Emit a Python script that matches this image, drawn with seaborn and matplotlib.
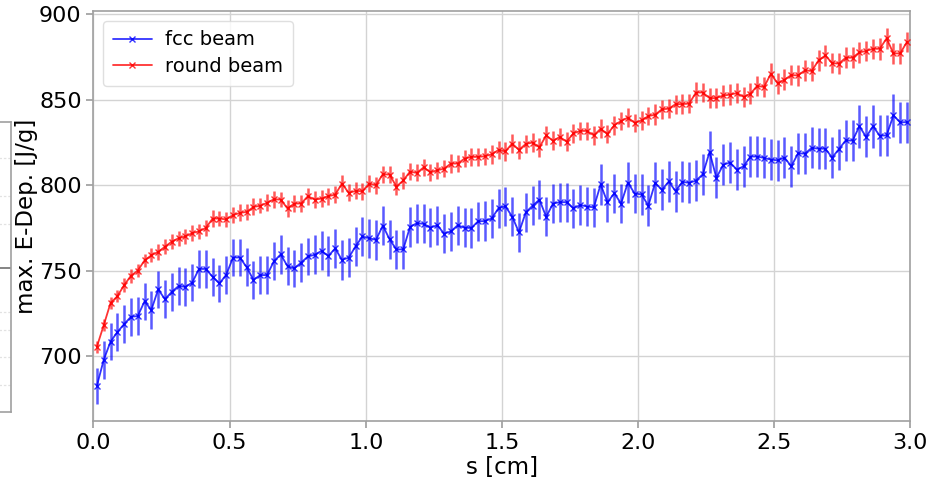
import numpy as np
import pandas as pd
import matplotlib
matplotlib.use("Agg")
import matplotlib.pyplot as plt
import seaborn as sns

# depth bins (cm): 120 bins of 0.025 cm, values at bin centres
s = np.round(np.arange(120) * 0.025 + 0.0125, 4)

fcc_beam = [
    682.6, 697.7, 708.4, 714.0, 718.7, 723.0, 723.4, 732.0, 727.0, 739.0,
    733.3, 737.6, 741.0, 740.5, 743.0, 751.0, 751.0, 746.4, 742.5, 747.6,
    757.7, 757.7, 752.0, 744.6, 747.4, 747.4, 755.5, 759.5, 752.6, 751.3,
    754.7, 758.3, 759.3, 761.6, 758.6, 763.0, 756.3, 757.6, 764.3, 770.0,
    769.0, 768.0, 776.4, 768.3, 762.4, 762.5, 775.6, 777.8, 777.4, 775.2,
    776.6, 771.7, 773.0, 776.6, 775.1, 775.0, 778.9, 779.0, 780.6, 786.6,
    787.7, 781.7, 772.4, 784.1, 788.0, 791.6, 781.5, 789.3, 790.1, 790.1,
    786.4, 788.5, 787.5, 787.1, 800.5, 790.0, 795.3, 789.3, 801.5, 795.1,
    794.7, 788.0, 801.4, 797.3, 802.2, 796.5, 802.0, 801.4, 802.7, 806.4,
    819.5, 804.3, 812.0, 813.3, 809.2, 811.1, 816.8, 816.8, 816.0, 815.0,
    814.6, 816.2, 811.1, 818.7, 818.5, 821.9, 821.4, 821.4, 816.2, 821.2,
    826.3, 826.1, 834.5, 828.3, 834.5, 829.0, 829.2, 840.9, 836.8, 837.0,
]

fcc_err = [
    10.5, 11.0, 11.0, 11.0, 11.0, 11.0, 11.0, 11.0, 11.0, 11.0,
    11.0, 11.0, 11.0, 11.0, 11.0, 11.0, 11.0, 11.0, 11.0, 11.0,
    11.0, 11.0, 11.0, 11.0, 11.0, 11.0, 11.0, 11.5, 11.0, 11.0,
    11.5, 11.0, 11.5, 11.5, 11.5, 11.5, 11.5, 11.5, 11.5, 11.5,
    11.5, 11.5, 11.5, 11.5, 11.5, 11.5, 11.5, 11.5, 11.5, 11.5,
    11.5, 11.5, 11.5, 11.5, 11.5, 11.5, 11.5, 11.5, 11.5, 11.5,
    11.5, 11.5, 11.5, 11.5, 11.5, 11.5, 11.5, 11.5, 11.5, 11.5,
    11.5, 11.5, 11.5, 11.5, 12.0, 11.5, 11.5, 11.5, 12.0, 11.5,
    12.0, 12.0, 12.0, 12.0, 12.0, 12.0, 12.0, 12.0, 12.0, 12.0,
    12.5, 12.0, 12.0, 12.0, 12.0, 12.0, 12.0, 12.0, 12.0, 12.0,
    12.0, 12.0, 12.0, 12.0, 12.0, 12.0, 12.0, 12.0, 12.0, 12.0,
    12.0, 12.0, 12.5, 12.0, 12.5, 12.0, 12.0, 12.5, 12.0, 12.0,
]

round_beam = [
    705.5, 718.0, 731.0, 735.0, 741.5, 747.0, 750.0, 756.0, 759.0, 761.0,
    764.0, 767.0, 769.0, 770.0, 772.0, 773.0, 775.0, 780.5, 780.5, 780.0,
    782.5, 783.8, 784.4, 787.3, 788.0, 789.7, 791.8, 791.6, 786.4, 789.3,
    789.3, 793.6, 791.6, 792.2, 793.6, 794.5, 801.0, 795.5, 796.7, 796.5,
    801.0, 800.0, 806.5, 806.2, 799.2, 802.8, 808.0, 807.2, 810.5, 807.5,
    808.8, 809.7, 812.7, 812.7, 815.6, 816.6, 816.6, 817.0, 818.1, 820.7,
    819.8, 824.4, 820.7, 824.2, 825.0, 822.2, 829.2, 826.0, 828.3, 825.5,
    830.4, 831.8, 831.8, 829.2, 833.1, 830.0, 835.1, 837.6, 839.6, 836.5,
    838.0, 840.5, 841.3, 844.5, 844.8, 847.5, 847.5, 847.8, 854.3, 854.3,
    851.0, 851.0, 852.6, 853.0, 854.0, 851.7, 853.6, 858.2, 857.5, 865.3,
    859.6, 861.8, 864.5, 864.3, 867.3, 866.9, 873.1, 876.0, 871.5, 871.2,
    874.7, 874.7, 877.8, 878.6, 879.9, 879.9, 886.0, 877.2, 877.2, 884.0,
]

round_err = [
    3.5, 3.5, 3.5, 3.5, 4.0, 4.0, 4.0, 4.0, 4.0, 4.5,
    4.5, 4.5, 4.5, 4.5, 4.5, 4.5, 4.5, 5.0, 4.5, 4.5,
    4.5, 5.0, 4.5, 5.0, 4.5, 5.0, 5.0, 4.5, 5.0, 5.0,
    5.0, 5.0, 5.0, 5.0, 5.0, 5.0, 5.0, 5.0, 5.0, 5.0,
    5.0, 5.0, 5.0, 5.0, 5.0, 5.0, 5.0, 5.0, 5.0, 5.0,
    5.0, 5.0, 5.5, 5.0, 5.0, 5.5, 5.5, 5.0, 5.5, 5.5,
    5.5, 5.5, 5.5, 5.5, 5.5, 5.5, 5.5, 5.5, 5.5, 5.5,
    5.5, 5.5, 5.5, 5.5, 5.5, 5.5, 5.5, 5.5, 5.5, 5.5,
    5.5, 5.5, 6.0, 5.5, 5.5, 5.5, 6.0, 5.5, 6.0, 5.5,
    6.0, 6.0, 6.0, 6.0, 6.0, 6.0, 6.0, 6.0, 6.0, 6.0,
    6.0, 6.0, 6.0, 6.0, 6.0, 6.0, 6.0, 6.0, 6.0, 6.0,
    6.0, 6.0, 6.0, 6.0, 6.0, 6.5, 6.0, 6.0, 6.0, 6.0,
]

x_ticks = [0.0, 0.5, 1.0, 1.5, 2.0, 2.5, 3.0]
y_ticks = [700, 750, 800, 850, 900]

sns.set_theme(style="whitegrid", rc={
    "axes.edgecolor": "#a0a0a0",
    "axes.linewidth": 1.2,
    "grid.color": "#d3d3d3",
    "grid.linewidth": 1.0,
    "xtick.bottom": True,
    "ytick.left": True,
    "xtick.color": "#a0a0a0",
    "ytick.color": "#a0a0a0",
    "xtick.labelcolor": "black",
    "ytick.labelcolor": "black",
    "xtick.major.size": 5,
    "ytick.major.size": 5,
    "text.color": "black",
    "axes.labelcolor": "black",
})
plt.rcParams["font.family"] = ["DejaVu Sans"]

fig = plt.figure(figsize=(9.33, 4.80), dpi=100)

# edge of the neighbouring panel at the left border (drawn first, underneath)
side = fig.add_axes([-0.002, 1 - 412 / 480, 13 / 933, 290 / 480])
side.set_xlim(0, 1)
side.set_ylim(0, 1)
side.set_xticks([])
side.set_yticks([])
side.grid(False)
for sp in side.spines.values():
    sp.set_color("#a0a0a0")
    sp.set_linewidth(1.2)
for yy in [0.875, 0.745, 0.648, 0.345, 0.283, 0.19, 0.093]:
    side.axhline(yy, color="#e2e2e2", lw=0.9, ls=(0, (2, 1.5)))
side.axhline(0.497, color="#707070", lw=1.2)

ax = fig.add_axes([0.1002, 0.123, 0.8756, 0.854])
ax.patch.set_alpha(0.0)

df = pd.concat([
    pd.DataFrame({"s": s, "edep": fcc_beam, "beam": "fcc beam"}),
    pd.DataFrame({"s": s, "edep": round_beam, "beam": "round beam"}),
])
colors = {"fcc beam": "blue", "round beam": "red"}
errs = {"fcc beam": fcc_err, "round beam": round_err}

for name in ["fcc beam", "round beam"]:
    sub = df[df["beam"] == name]
    ax.errorbar(sub["s"], sub["edep"], yerr=errs[name], fmt="none",
                ecolor=colors[name], elinewidth=1.8, alpha=0.65, capsize=0,
                zorder=2)
    sns.lineplot(data=sub, x="s", y="edep", ax=ax, color=colors[name],
                 marker="x", markersize=4, markeredgewidth=1.0,
                 markeredgecolor=colors[name], linewidth=1.3, alpha=0.8,
                 label=name, estimator=None, zorder=3)

ax.set_xlim(0.0, 3.0)
ax.set_ylim(662, 902)
ax.set_xticks(x_ticks)
ax.set_yticks(y_ticks)
ax.tick_params(axis="both", labelsize=16)
ax.set_xlabel("s [cm]", fontsize=16.5, labelpad=2)
ax.set_ylabel("max. E-Dep. [J/g]", fontsize=16.5, labelpad=1)
ax.grid(True)

leg = ax.legend(loc="upper left", fontsize=14, frameon=True,
                borderpad=0.5, labelspacing=0.4, handlelength=2.0,
                handletextpad=0.7)
leg.get_frame().set_edgecolor("#d8d8d8")

fig.savefig("out.png", dpi=100)
